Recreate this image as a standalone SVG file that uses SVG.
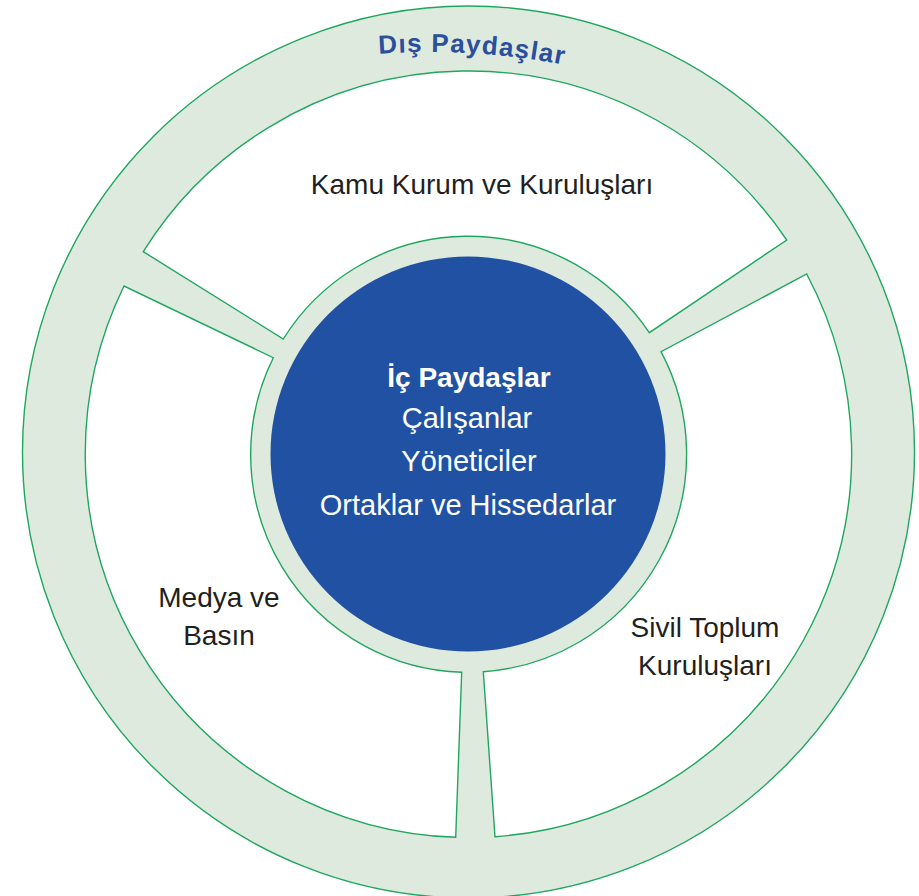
<svg xmlns="http://www.w3.org/2000/svg" width="919" height="896" viewBox="0 0 919 896">
  <style>
    .band { fill: #dfeadf; stroke: #1fa75f; stroke-width: 1.4; }
    .sector { fill: #ffffff; stroke: #1fa75f; stroke-width: 1.4; stroke-linejoin: miter; }
    .core { fill: #2051a3; }
    .lbl { font-family: "Liberation Sans", Arial, sans-serif; font-size: 28px; fill: #231f20; text-anchor: middle; }
    .in { font-family: "Liberation Sans", Arial, sans-serif; font-size: 29px; fill: #ffffff; text-anchor: middle; }
    .inb { font-weight: bold; font-size: 28px; }
    .outer { font-family: "Liberation Sans", Arial, sans-serif; font-size: 26px; font-weight: bold; fill: #2a4f9c; letter-spacing: 1.2px; }
  </style>
  <defs>
    <path id="arcTop" d="M 250 75.5 A 700 700 0 0 1 610 75.5" fill="none"/>
  </defs>
  <rect width="919" height="896" fill="#ffffff"/>
  <g id="dis-paydaslar">
    <circle class="band" cx="468.5" cy="452" r="446"/>
    <text class="outer"><textPath href="#arcTop" startOffset="224" text-anchor="middle">Dış Paydaşlar</textPath></text>
  </g>
  <g id="kamu">
    <path class="sector" d="M 143.3 251.7 A 383.5 383.5 0 0 1 786.7 240 L 649.3 332.7 A 218 218 0 0 0 283.3 339 Z"/>
    <text class="lbl" x="482" y="194">Kamu Kurum ve Kuruluşları</text>
  </g>
  <g id="medya">
    <path class="sector" d="M 124 286 A 383.5 383.5 0 0 0 455.7 837.3 L 461.7 672.3 A 218 218 0 0 1 273.3 357.7 Z"/>
    <text class="lbl" x="219" y="607" font-size="29">Medya ve</text>
    <text class="lbl" x="219" y="645" font-size="29">Basın</text>
  </g>
  <g id="sivil">
    <path class="sector" d="M 806.7 274 A 383.5 383.5 0 0 1 495 836.7 L 483.3 671.7 A 218 218 0 0 0 661 351.7 Z"/>
    <text class="lbl" x="705" y="637">Sivil Toplum</text>
    <text class="lbl" x="705" y="675">Kuruluşları</text>
  </g>
  <g id="ic-paydaslar">
    <circle class="core" cx="468" cy="454" r="197.5"/>
    <text class="in inb" x="469" y="387">İç Paydaşlar</text>
    <text class="in" x="467" y="428">Çalışanlar</text>
    <text class="in" x="469" y="471">Yöneticiler</text>
    <text class="in" x="468" y="515">Ortaklar ve Hissedarlar</text>
  </g>
  <g id="connectors"></g>
</svg>
